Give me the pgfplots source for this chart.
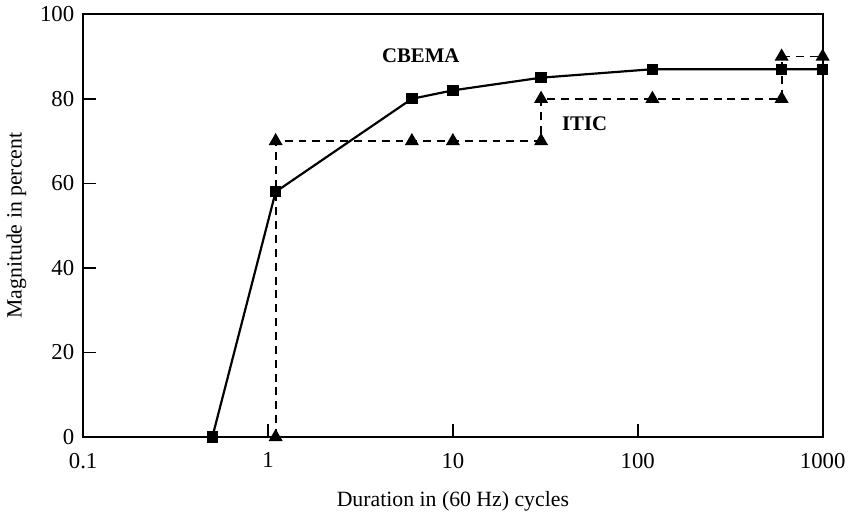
\documentclass[border=0pt]{standalone}
\usepackage{pgfplots}
\pgfplotsset{compat=1.18}
\usepackage{fontspec}
\setmainfont{Liberation Serif}

\begin{document}
\begin{tikzpicture}
\begin{axis}[
  scale only axis,
  width=373.5pt, height=213.5pt,
  xmode=log, log basis x=10,
  xmin=0.1, xmax=1000, ymin=0, ymax=100,
  xtick={0.1,1,10,100,1000},
  xticklabels={0.1,1,10,100,1000},
  ytick={0,20,40,60,80,100},
  minor xtick={}, minor ytick={},
  tick align=inside,
  major tick length=6.5pt,
  xtick pos=bottom, ytick pos=left,
  axis line style={line width=1.1pt},
  tick style={line width=0.8pt, black},
  /pgf/number format/assume math mode=true,
  ticklabel style={font=\fontsize{11.5}{13}\selectfont},
  xticklabel style={yshift=-4.5pt},
  yticklabel style={xshift=-1pt},
  label style={font=\fontsize{11}{13}\selectfont},
  xlabel={Duration in (60 Hz) cycles},
  ylabel={Magnitude in percent},
  xlabel style={yshift=-5pt},
  ylabel style={yshift=0pt},
  clip=false,
]
% CBEMA curve
\addplot[black, line width=1.1pt, mark=square*, mark size=2.3pt] coordinates {
  (0.5,0) (1.1,58) (6,80) (10,82) (30,85) (120,87) (600,87) (1000,87)
};
% ITIC curve
\addplot[black, line width=0.9pt, dashed, dash pattern=on 4pt off 3pt,
  mark=triangle*, mark size=3.2pt, mark options={solid}] coordinates {
  (1.1,0) (1.1,70) (6,70) (10,70) (30,70) (30,80) (120,80) (600,80) (600,90) (1000,90)
};
\node[font=\fontsize{10.5}{12}\selectfont\bfseries] at (axis cs:6.7,90.3) {CBEMA};
\node[font=\fontsize{10.5}{12}\selectfont\bfseries] at (axis cs:51.6,74.1) {ITIC};
\end{axis}
\end{tikzpicture}
\end{document}
